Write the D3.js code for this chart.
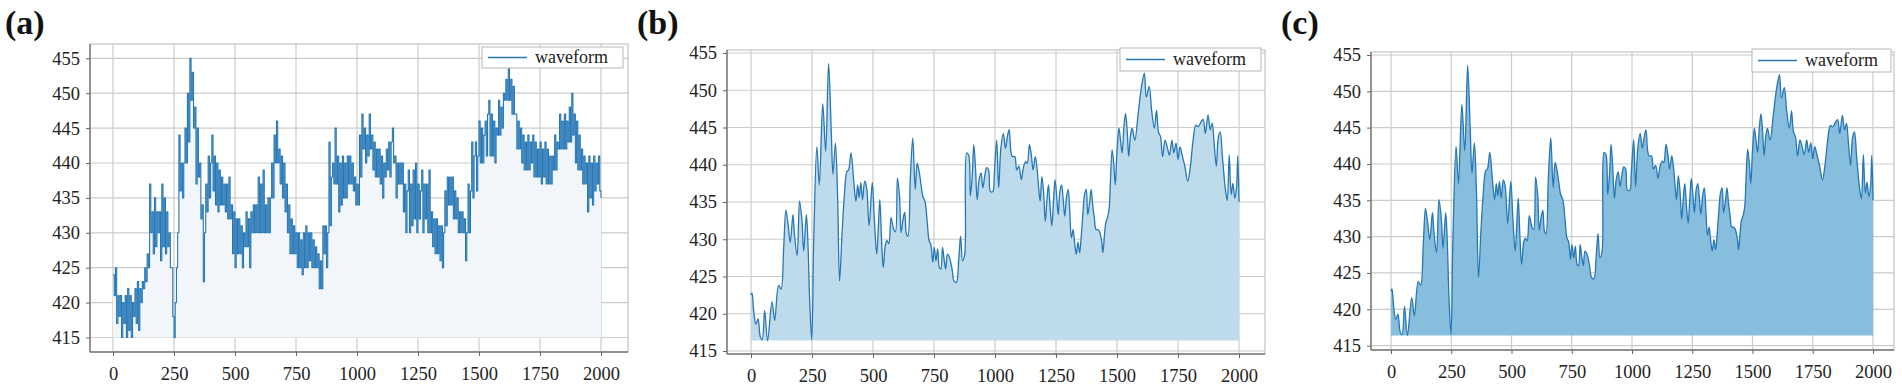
<!DOCTYPE html>
<html>
<head>
<meta charset="utf-8">
<script src="https://cdn.jsdelivr.net/npm/d3@7"></script>
<style>
  body { margin: 0; background: #fff; }
  svg { display: block; }
  text { font-family: "Liberation Serif", "Times New Roman", serif; }
</style>
</head>
<body>
<svg id="chart" width="1902" height="391"></svg>
<script>
// raw waveform, one reading every rawStep samples (panel a)
const rawStep = 5;
const rawValues = [
  424,421,425,417,421,418,421,415,420,417, 421,415,422,416,421,415,420,418,422,417,
  423,416,422,420,423,422,425,423,427,425, 437,430,433,427,435,428,433,430,433,426,
  437,428,435,427,433,428,430,425,425,418, 415,420,425,430,444,436,440,435,440,445,
  440,450,443,455,449,453,445,448,437,445, 438,440,432,434,423,430,437,433,441,435,
  440,444,436,441,434,440,433,439,434,438, 434,437,433,437,432,438,432,434,427,433,
  425,432,427,432,427,431,425,430,428,433, 428,432,425,433,430,434,430,434,430,438,
  430,437,430,439,430,434,430,435,430,435, 440,435,444,440,446,440,442,437,441,435,
  440,433,437,430,434,427,432,427,431,427, 430,425,430,425,429,424,430,425,431,425,
  430,426,430,425,429,425,428,425,427,422, 426,422,431,427,431,425,430,443,431,438,
  440,437,445,437,441,433,440,434,441,435, 440,435,441,437,441,437,440,436,438,434,
  437,434,444,438,447,442,445,440,444,441, 447,442,444,439,443,438,442,438,442,437,
  441,435,440,438,442,439,443,438,443,445, 440,441,435,440,437,440,437,440,433,437,
  430,436,439,430,437,431,439,432,440,430, 437,432,436,439,430,437,432,437,430,439,
  430,433,428,432,427,432,427,431,426,431, 425,430,436,431,438,434,438,434,438,432,
  436,432,435,430,433,430,433,430,432,426, 430,437,430,436,443,435,441,443,436,441,
  446,440,445,440,444,446,441,447,449,441, 447,441,446,440,445,444,449,444,448,445,
  450,449,452,449,454,449,452,447,451,447, 447,442,446,442,445,440,444,439,443,439,
  444,439,443,440,444,438,443,438,442,438, 443,437,442,438,443,437,442,437,441,437,
  441,439,444,439,443,442,447,442,446,442, 447,442,446,443,448,443,450,444,447,440,
  446,439,444,439,442,437,441,437,440,433, 441,435,440,434,441,436,440,437,441,436,
  435
];

// smoothed waveform (panels b and c): sample index and value
const smoothIdx = [
  0,4,11,20,29,38,46,56,68,86,97,113,123,134,143,152,161,172,178,189,
  199,209,216,227,234,240,249,257,270,280,294,306,318,329,336,346,355,363,373,382,
  393,400,410,421,430,437,443,450,457,466,474,484,497,505,515,521,528,535,542,551,
  558,565,574,585,592,600,609,615,623,630,637,643,653,663,673,681,689,697,704,713,
  722,730,737,745,751,758,765,772,778,785,792,798,805,813,824,832,842,851,859,867,
  876,884,892,899,907,913,920,927,935,943,950,959,966,974,981,991,997,1007,1015,1024,
  1034,1043,1051,1058,1065,1071,1081,1089,1098,1108,1116,1125,1132,1141,1149,1156,1165,1172,1179,1185,
  1192,1199,1206,1212,1219,1226,1233,1239,1246,1253,1259,1266,1273,1280,1286,1293,1300,1307,1313,1320,
  1327,1333,1340,1347,1353,1360,1367,1374,1380,1387,1394,1401,1407,1414,1421,1427,1437,1442,1449,1454,
  1461,1468,1473,1480,1487,1493,1500,1508,1515,1521,1528,1535,1542,1548,1555,1562,1573,1587,1600,1612,
  1620,1632,1642,1653,1662,1670,1678,1687,1697,1707,1715,1725,1733,1742,1750,1758,1767,1778,1790,1800,
  1812,1823,1833,1845,1853,1862,1873,1882,1890,1898,1907,1915,1923,1932,1940,1945,1952,1960,1968,1975,
  1983,1990,1995,2000
];
const smoothVal = [
  422.5,422.8,420.4,418.6,419.3,416.9,416.5,420.4,416.4,421.6,419.1,423.8,423.3,428.9,433.9,432,429.6,433.3,430.7,427.8,
  435.1,432.4,428.4,433.3,428.9,422.2,416.5,429.8,442.4,437.3,448.2,441.8,453.6,444.5,438.7,442.9,435.6,424.4,430.7,435.6,
  439.1,439.3,441.6,437.8,435.1,437.3,435.6,437.6,435.3,437.8,436.9,431.8,437.6,433,428,431,435.3,430,426.2,429.3,
  429.8,429.4,432.9,431.3,431,438.2,435.6,430.9,432.7,433.6,430.7,430.4,438.2,443.6,436.7,440.2,439.1,437.3,435.8,435.1,
  432.4,429.8,429.3,426.9,428.9,427.1,428.7,426.2,426,428.9,427.1,426,428,427.6,426,424.4,424.2,427.1,430.4,427.1,
  428,441.6,441.3,435.8,438.7,442.7,439.6,435.3,438,438.9,436.9,438.7,439.6,439.3,436.4,436.4,438.7,443.3,436.9,442.2,
  444.2,442.2,443.8,444.7,441.8,441.1,441.1,439.3,439.8,438,439.6,440.4,440.2,442.7,441.3,439.3,441.1,439.6,436.9,435.1,
  438.4,436.4,432.4,434.9,437.3,434.2,431.8,434.7,438,435.6,433.3,436.4,437.3,435.1,433.1,435.6,436.7,433.3,430.2,431.3,
  429.3,428,429.6,428.2,430.2,433.3,436,436.7,433.3,434.7,436.7,434.4,432.9,431.3,431.3,431.1,429.8,428.2,430.7,432.2,
  432.9,434.2,437.8,442,440,437.3,441.8,444.9,443.1,441.6,444.9,446.9,444.4,441.1,443.8,444.9,443.3,446.9,450.4,452.3,
  449.1,450.5,447.3,444.9,447.3,444.4,443.8,441.1,443.3,442.2,441.3,443.3,441.6,442.9,440.7,442.4,441.3,439.8,437.8,439.6,
  443.3,445.3,445.1,445.8,446.1,444.2,446.7,444.7,445.6,442.9,439.8,443.6,444.4,441.1,438,436.5,435.2,441.3,436,437.5,
  435.5,437,441.2,435
];

const yTicks = [415, 420, 425, 430, 435, 440, 445, 450, 455];
const xTicks = [0, 250, 500, 750, 1000, 1250, 1500, 1750, 2000];
const panelLabels = ["(a)", "(b)", "(c)"];
const seriesName = "waveform";

const rawIdx = rawValues.map((d, i) => i * rawStep);

const lineColor = "#2677b6";

// layout of the three panels (pixel geometry)
const panels = [
  { label: panelLabels[0], lx: 5, left: 90, right: 628, top: 44, bottom: 352,
    x0: 113, x1: 601, y415: 337.5, y455: 58.3,
    legend: [482, 47, 141, 21], fill: "#f2f6fa", xs: rawIdx, ys: rawValues, curve: d3.curveStepAfter, lw: 1.1 },
  { label: panelLabels[1], lx: 637, left: 727, right: 1265, top: 50, bottom: 354,
    x0: 751, x1: 1239, y415: 351, y455: 53,
    legend: [1120, 48, 141, 23], fill: "#bedbec", xs: smoothIdx, ys: smoothVal, curve: d3.curveCatmullRom, lw: 1.3 },
  { label: panelLabels[2], lx: 1281, left: 1371, right: 1894, top: 52, bottom: 350,
    x0: 1391, x1: 1873, y415: 345.6, y455: 55,
    legend: [1752, 49, 139, 23], fill: "#87bddd", xs: smoothIdx, ys: smoothVal, curve: d3.curveCatmullRom, lw: 1.3 }
];

const svg = d3.select("#chart");

panels.forEach(p => {
  const x = d3.scaleLinear().domain([0, 2000]).range([p.x0, p.x1]);
  const y = d3.scaleLinear().domain([415, 455]).range([p.y415, p.y455]);
  const g = svg.append("g");

  // panel tag
  g.append("text")
    .attr("x", p.lx).attr("y", 34)
    .attr("font-size", 34).attr("font-weight", "bold")
    .attr("fill", "#111")
    .text(p.label);

  // grid
  g.append("g").selectAll("line").data(yTicks).join("line")
    .attr("x1", p.left).attr("x2", p.right)
    .attr("y1", d => y(d)).attr("y2", d => y(d))
    .attr("stroke", "#cccccc").attr("stroke-width", 1.2);
  g.append("g").selectAll("line").data(xTicks).join("line")
    .attr("x1", d => x(d)).attr("x2", d => x(d))
    .attr("y1", p.top).attr("y2", p.bottom)
    .attr("stroke", "#cccccc").attr("stroke-width", 1.2);

  // filled waveform
  const base = d3.min(p.ys);
  const area = d3.area()
    .x((d, i) => x(p.xs[i]))
    .y0(y(base))
    .y1(d => y(d))
    .curve(p.curve);
  g.append("path").datum(p.ys)
    .attr("d", area)
    .attr("fill", p.fill);

  const line = d3.line()
    .x((d, i) => x(p.xs[i]))
    .y(d => y(d))
    .curve(p.curve);
  g.append("path").datum(p.ys)
    .attr("d", line)
    .attr("fill", "none")
    .attr("stroke", lineColor)
    .attr("stroke-width", p.lw)
    .attr("stroke-linejoin", "round");

  // frame
  g.append("rect")
    .attr("x", p.left).attr("y", p.top)
    .attr("width", p.right - p.left).attr("height", p.bottom - p.top)
    .attr("fill", "none").attr("stroke", "#c4c4c4").attr("stroke-width", 1.2);
  g.append("line").attr("x1", p.left).attr("x2", p.left)
    .attr("y1", p.top).attr("y2", p.bottom)
    .attr("stroke", "#777").attr("stroke-width", 1.4);
  g.append("line").attr("x1", p.left).attr("x2", p.right)
    .attr("y1", p.bottom).attr("y2", p.bottom)
    .attr("stroke", "#777").attr("stroke-width", 1.4);

  // axes
  const ya = g.append("g")
    .attr("transform", "translate(" + p.left + ",0)")
    .call(d3.axisLeft(y).tickValues(yTicks).tickSize(4).tickPadding(6));
  ya.select(".domain").remove();
  ya.selectAll("line").attr("stroke", "#666");
  ya.selectAll("text").attr("font-size", 18.5).attr("fill", "#222")
    .attr("font-family", "Liberation Serif");

  const xa = g.append("g")
    .attr("transform", "translate(0," + p.bottom + ")")
    .call(d3.axisBottom(x).tickValues(xTicks).tickSize(4).tickFormat(d3.format("d")));
  xa.select(".domain").remove();
  xa.selectAll("line").attr("stroke", "#666");
  xa.selectAll("text").attr("font-size", 18.5).attr("fill", "#222")
    .attr("font-family", "Liberation Serif")
    .attr("y", 22).attr("dy", "0.35em");

  // legend
  const [bx, by, bw, bh] = p.legend;
  const lg = g.append("g");
  lg.append("rect").attr("x", bx).attr("y", by).attr("width", bw).attr("height", bh)
    .attr("fill", "#fff").attr("stroke", "#b8b8b8").attr("stroke-width", 1);
  lg.append("line").attr("x1", bx + 6).attr("x2", bx + 45)
    .attr("y1", by + bh / 2).attr("y2", by + bh / 2)
    .attr("stroke", lineColor).attr("stroke-width", 1.5);
  lg.append("text").attr("x", bx + 53).attr("y", by + bh / 2)
    .attr("dy", "0.33em").attr("font-size", 18).attr("fill", "#222")
    .text(seriesName);
});
</script>
</body>
</html>
